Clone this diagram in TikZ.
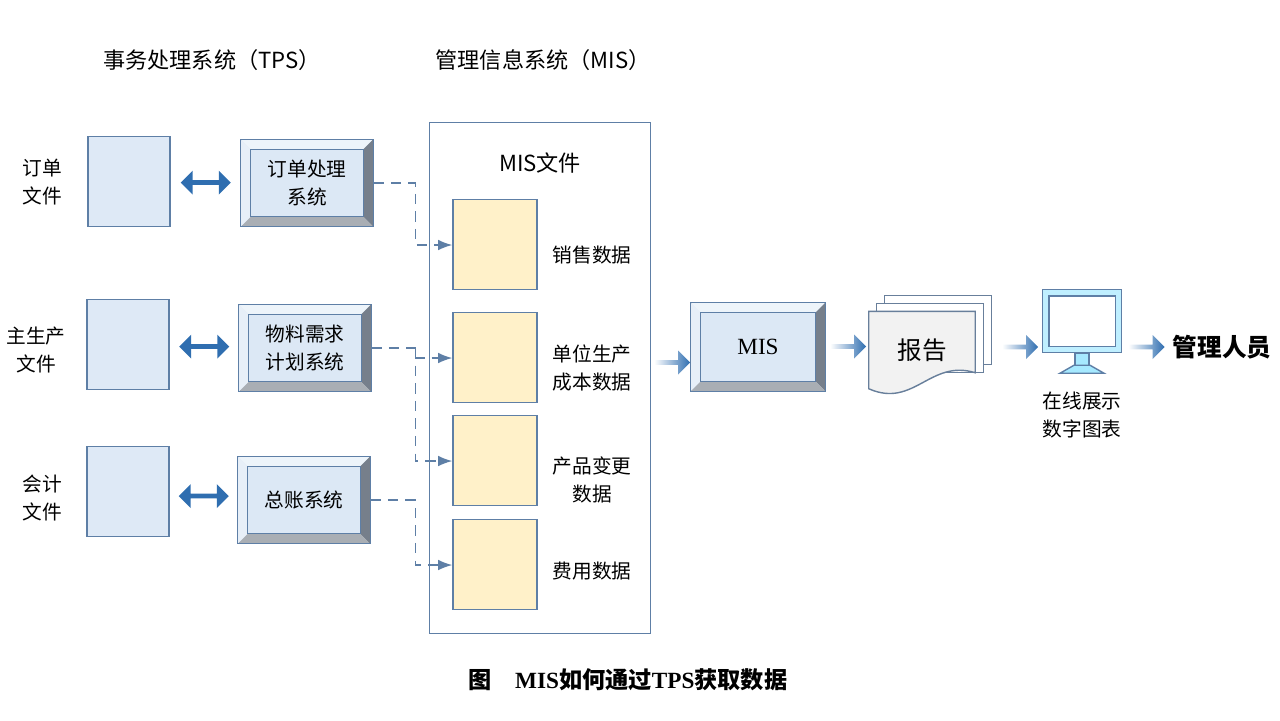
\documentclass[tikz,border=0pt]{standalone}
\usepackage{fontspec}
\setmainfont{Liberation Serif}
\newfontfamily\cjk{Noto Sans CJK SC}
\usetikzlibrary{positioning,shapes.geometric,shapes.arrows,calc,arrows.meta}
\definecolor{dbblue}{HTML}{DEE9F6}
\definecolor{dbyellow}{HTML}{FFF1C9}
\definecolor{edgeblue}{HTML}{5E7FA6}
\definecolor{arrowblue}{HTML}{2F6EB0}
\definecolor{boxface}{HTML}{DCE8F5}
\tikzset{
  db/.style={cylinder,shape border rotate=90,aspect=0.28,draw=edgeblue,
    minimum width=0.82cm,minimum height=0.9cm,inner sep=0pt},
  lbl/.style={font=\cjk\fontsize{5.6}{8}\selectfont,align=center},
  flow/.style={single arrow,minimum height=0.36cm,minimum width=0.24cm,
    single arrow head extend=0.03cm,inner sep=0pt,draw=none,
    left color=white,right color=arrowblue},
  both/.style={double arrow,minimum height=0.5cm,minimum width=0.24cm,
    double arrow head extend=0.03cm,inner sep=0pt,fill=arrowblue,draw=none},
  feed/.style={densely dashed,draw=edgeblue,-{Latex[length=4pt,width=3pt]}}
}
% bevel box: name, centre, width, height, text
\newcommand{\bevelBox}[5]{
  \node[draw=edgeblue,fill=boxface,minimum width=#3,minimum height=#4,
    inner sep=0pt](#1) at #2 {};
  \fill[white!50!boxface] (#1.north west) -- (#1.north east) -- ($(#1.north east)+(-10,10)$) -- ($(#1.north west)+(10,10)$) -- cycle;
  \fill[white!30!boxface] (#1.north west) -- (#1.south west) -- ($(#1.south west)+(10,-10)$) -- ($(#1.north west)+(10,10)$) -- cycle;
  \fill[gray!70!edgeblue] (#1.north east) -- (#1.south east) -- ($(#1.south east)+(-10,-10)$) -- ($(#1.north east)+(-10,10)$) -- cycle;
  \fill[gray!55!boxface] (#1.south west) -- (#1.south east) -- ($(#1.south east)+(-10,-10)$) -- ($(#1.south west)+(10,-10)$) -- cycle;
  \draw[edgeblue] ($(#1.north west)+(10,10)$) rectangle ($(#1.south east)+(-10,-10)$);
  \draw[edgeblue] (#1.north west) rectangle (#1.south east);
  \node[lbl,font=\cjk\fontsize{5.6}{8}\selectfont] at (#1) {#5};
}
\begin{document}
\begin{tikzpicture}[x=0.01cm,y=-0.01cm]
  \useasboundingbox (0,0) rectangle (1280,720);
  % titles
  \node[lbl,font=\cjk\fontsize{6.3}{8}\selectfont] (ttps) at (212,60) {事务处理系统（TPS）};
  \node[lbl,font=\cjk\fontsize{6.3}{8}\selectfont] (tmis) at (543,60) {管理信息系统（MIS）};
  % TPS files
  \node[lbl] (l1) at (42,182) {订单\\文件};
  \node[lbl] (l2) at (36,350) {主生产\\文件};
  \node[lbl] (l3) at (42,498) {会计\\文件};
  \node[db,fill=dbblue] (f1) at (129,182) {};
  \node[db,fill=dbblue] (f2) at (128,345) {};
  \node[db,fill=dbblue] (f3) at (128,492) {};
  \bevelBox{s1}{(307,183)}{1.31cm}{0.86cm}{订单处理\\系统}
  \bevelBox{s2}{(305,348)}{1.31cm}{0.86cm}{物料需求\\计划系统}
  \bevelBox{s3}{(304,500)}{1.31cm}{0.86cm}{总账系统}
  \node[both] (b1) at ($(f1.east)!0.5!(s1.west)$) {};
  \node[both] (b2) at ($(f2.east)!0.5!(s2.west)$) {};
  \node[both] (b3) at ($(f3.east)!0.5!(s3.west)$) {};
  % MIS files
  \node[draw=edgeblue,minimum width=2.21cm,minimum height=5.11cm,inner sep=0pt] (box) at (540,378) {};
  \node[lbl,font=\cjk\fontsize{6.3}{8}\selectfont] (tbox) at (540,163) {MIS文件};
  \node[db,fill=dbyellow,minimum width=0.84cm] (d1) at (495,245) {};
  \node[db,fill=dbyellow,minimum width=0.84cm] (d2) at (495,358) {};
  \node[db,fill=dbyellow,minimum width=0.84cm] (d3) at (495,461) {};
  \node[db,fill=dbyellow,minimum width=0.84cm] (d4) at (495,565) {};
  \node[lbl] (n1) at (592,255) {销售数据};
  \node[lbl] (n2) at (592,368) {单位生产\\成本数据};
  \node[lbl] (n3) at (592,480) {产品变更\\数据};
  \node[lbl] (n4) at (592,571) {费用数据};
  \draw[feed] (s1.east) -- ++(42,0) |- (d1.west);
  \draw[feed] (s2.east) -- ++(44,0) |- (d2.west);
  \draw[feed] ($(s2.east)+(44,0)$) |- (d3.west);
  \draw[feed] (s3.east) -- ++(45,0) |- (d4.west);
  % MIS and outputs
  \bevelBox{mis}{(758,347)}{1.33cm}{0.87cm}{}
  \node[font=\fontsize{6.6}{8}\selectfont] at (mis) {MIS};
  \node[inner sep=0pt,minimum width=1.05cm,minimum height=0.68cm] (rep) at (922,346) {};
  \foreach \d in {16,8} {
    \draw[edgeblue!70!gray,fill=white] ($(rep.north west)+(\d,-\d)$) rectangle ($(rep.south east)+(\d,-\d)$);
  }
  \draw[edgeblue!70!gray,fill=gray!10] (rep.north west) -- (rep.north east) -- ($(rep.south east)+(0,-8)$)
    .. controls ($(rep.south east)+(-45,-22)$) and ($(rep.south west)+(45,28)$) .. ($(rep.south west)+(0,8)$) -- cycle;
  \node[font=\cjk\fontsize{7}{8}\selectfont] at ($(rep)+(0,4)$) {报告};
  \node[draw=edgeblue,fill=blue!25!cyan!25!white,minimum width=0.79cm,minimum height=0.63cm,inner sep=0pt] (scr) at (1082,321) {};
  \draw[edgeblue,fill=white] ($(scr.north west)+(7,7)$) rectangle ($(scr.south east)+(-7,-7)$);
  \fill[blue!25!cyan!35!white,draw=edgeblue] ($(scr.south)+(-7,0)$) rectangle ($(scr.south)+(7,12)$);
  \fill[blue!25!cyan!35!white,draw=edgeblue] ($(scr.south)+(-8,12)$) -- ($(scr.south)+(8,12)$) -- ($(scr.south)+(22,20)$) -- ($(scr.south)+(-22,20)$) -- cycle;
  \node[lbl] (n5) at (1082,415) {在线展示\\数字图表};
  \node[font=\cjk\bfseries\fontsize{7}{8}\selectfont,inner sep=1pt] (mgr) at (1222,347) {管理人员};
  \node[flow] (a1) at ($(box.east)!0.5!(mis.west)$) {};
  \node[flow] (a2) at ($(mis.east)!0.5!(rep.west)$) {};
  \node[flow] (a3) at (1019,347) {};
  \node[flow] (a4) at ($(scr.east|-mgr)!0.5!(mgr.west)$) {};
  % caption
  \node[font=\bfseries\fontsize{6.6}{8}\selectfont] (cap) at (628,680) {{\cjk 图}\quad MIS{\cjk 如何通过}TPS{\cjk 获取数据}};
\end{tikzpicture}
\end{document}
